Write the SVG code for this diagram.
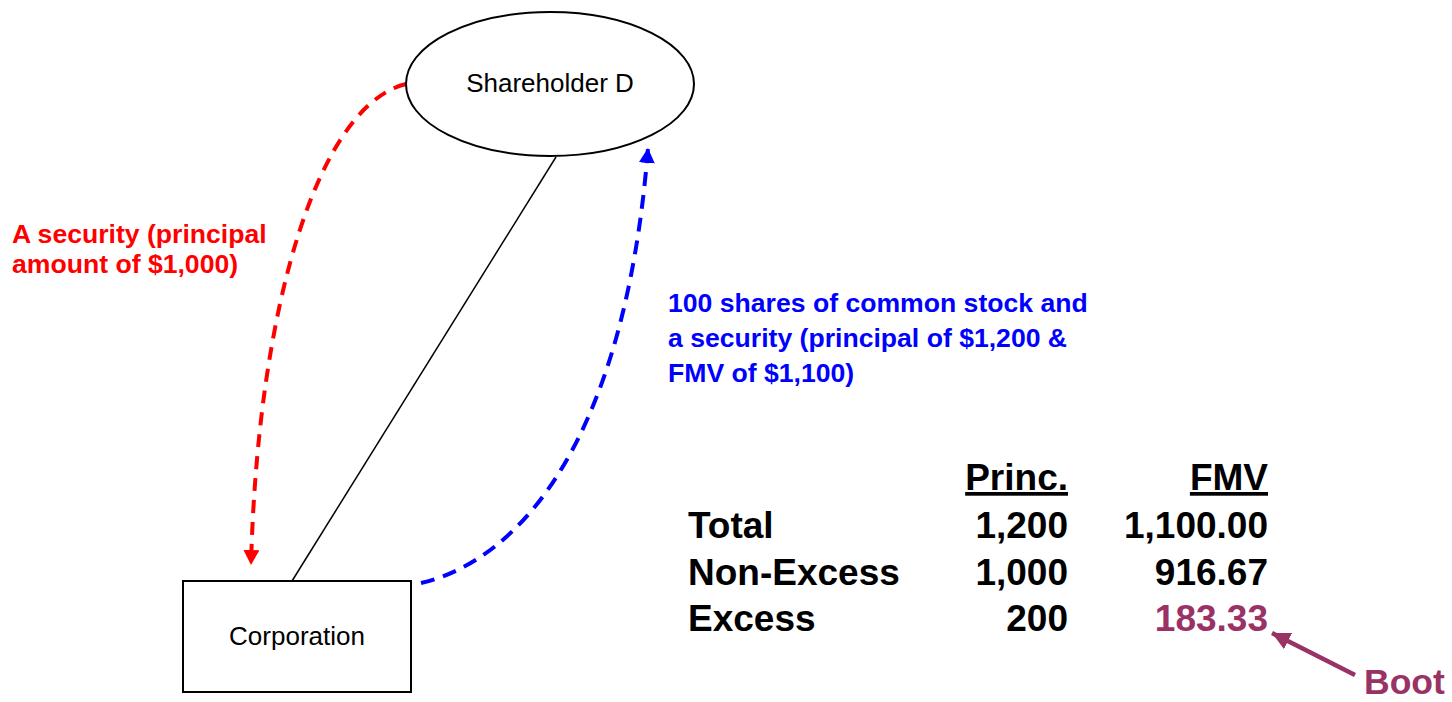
<svg xmlns="http://www.w3.org/2000/svg" width="1452" height="702" viewBox="0 0 1452 702">
<style>
.node{fill:#fff;stroke:#000;stroke-width:2}
.lbl{font-family:"Liberation Sans",Arial,sans-serif;font-size:26px;fill:#000}
.b{font-family:"Liberation Sans",Arial,sans-serif;font-weight:bold}
.red{fill:#ff0000;font-size:26.6px}
.blue{fill:#0000ff;font-size:26.6px}
.tbl{font-size:37px;fill:#000}
.boot{fill:#993366}
</style>
<defs>
<marker id="ar" viewBox="0 0 15 16" refX="15" refY="8" markerWidth="15" markerHeight="16" markerUnits="userSpaceOnUse" orient="auto"><path d="M0,0L15,8L0,16z" fill="#ff0000"/></marker>
<marker id="ab" viewBox="0 0 15 16" refX="15" refY="8" markerWidth="15" markerHeight="16" markerUnits="userSpaceOnUse" orient="auto"><path d="M0,0L15,8L0,16z" fill="#0000ff"/></marker>
<marker id="ap" viewBox="0 0 18 18" refX="18" refY="9" markerWidth="18" markerHeight="18" markerUnits="userSpaceOnUse" orient="auto"><path d="M0,0L18,9L0,18z" fill="#993366"/></marker>
</defs>
<g id="connectors">
<line x1="556" y1="157" x2="292" y2="581" stroke="#000" stroke-width="1.5"/>
<path d="M406,84 C320,105 258,300 251,565" fill="none" stroke="#ff0000" stroke-width="4" stroke-dasharray="13,9" marker-end="url(#ar)"/>
<path d="M421,583 C520,560 625,440 648,148" fill="none" stroke="#0000ff" stroke-width="4" stroke-dasharray="14,9" marker-end="url(#ab)"/>
<line x1="1355" y1="675" x2="1272" y2="633" stroke="#993366" stroke-width="4.5" marker-end="url(#ap)"/>
</g>
<g id="shareholder">
<ellipse class="node" cx="550" cy="84" rx="144" ry="72"/>
<text class="lbl" x="550" y="92" text-anchor="middle">Shareholder D</text>
</g>
<g id="corporation">
<rect class="node" x="183" y="581" width="228" height="111"/>
<text class="lbl" x="297" y="645" text-anchor="middle">Corporation</text>
</g>
<g id="red-label">
<text class="b red" x="12" y="243">A security (principal</text>
<text class="b red" x="12" y="273">amount of $1,000)</text>
</g>
<g id="blue-label">
<text class="b blue" x="668" y="312">100 shares of common stock and</text>
<text class="b blue" x="668" y="347">a security (principal of $1,200 &amp;</text>
<text class="b blue" x="668" y="382">FMV of $1,100)</text>
</g>
<g id="table">
<text class="b tbl" x="1068" y="490" text-anchor="end" text-decoration="underline">Princ.</text>
<text class="b tbl" x="1268" y="490" text-anchor="end" text-decoration="underline">FMV</text>
<text class="b tbl" x="688" y="538">Total</text>
<text class="b tbl" x="1068" y="538" text-anchor="end">1,200</text>
<text class="b tbl" x="1268" y="538" text-anchor="end">1,100.00</text>
<text class="b tbl" x="688" y="585">Non-Excess</text>
<text class="b tbl" x="1068" y="585" text-anchor="end">1,000</text>
<text class="b tbl" x="1268" y="585" text-anchor="end">916.67</text>
<text class="b tbl" x="688" y="631">Excess</text>
<text class="b tbl" x="1068" y="631" text-anchor="end">200</text>
<text class="b tbl boot" x="1268" y="631" text-anchor="end">183.33</text>
</g>
<g id="boot">
<text class="b boot" x="1364" y="694" font-size="35.5">Boot</text>
</g>
</svg>
